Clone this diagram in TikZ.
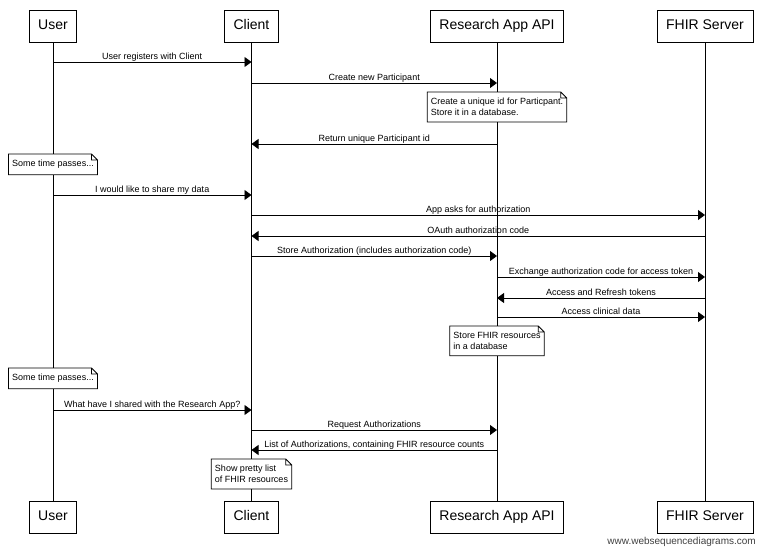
\documentclass[tikz,border=0pt]{standalone}
\usepackage{fontspec}
\setmainfont{Liberation Sans}
\usetikzlibrary{arrows.meta}

\tikzset{
  actor/.style={draw, fill=white, line width=0.8pt, minimum height=32pt, inner xsep=9pt, text height=10pt, text depth=3pt, font=\fontsize{14}{16}\selectfont},
  life/.style={line width=0.8pt},
  msg/.style={line width=0.8pt, -{Triangle[length=7pt,width=10pt]}},
  lbl/.style={midway, anchor=base, yshift=2.5pt, inner sep=0pt, font=\fontsize{9}{11}\selectfont},
  note/.style={anchor=north, fill=white, align=left, inner xsep=3.5pt, inner ysep=6pt, font=\fontsize{9}{11}\selectfont}
}

\begin{document}
\begin{tikzpicture}[x=1pt, y=-1pt]
  \useasboundingbox (0,0) rectangle (762,551);

  % Participants at the top and at the bottom
  \node[actor] (user)   at (53,26.5)  {User};
  \node[actor] (client) at (251.5,26.5) {Client};
  \node[actor] (api)    at (497,26.5) {Research App API};
  \node[actor] (fhir)   at (705,26.5) {FHIR Server};
  \node[actor] (user-b)   at (53,517)  {User};
  \node[actor] (client-b) at (251.5,517) {Client};
  \node[actor] (api-b)    at (497,517) {Research App API};
  \node[actor] (fhir-b)   at (705,517) {FHIR Server};

  % Lifelines
  \foreach \p in {user,client,api,fhir}
    \draw[life] (\p.south) -- (\p-b.north);

  % Messages
  \draw[msg] (user |- 0,62) -- node[lbl] {User registers with Client} (client |- 0,62);
  \draw[msg] (client |- 0,83) -- node[lbl] {Create new Participant} (api |- 0,83);
  \draw[msg] (api |- 0,144) -- node[lbl] {Return unique Participant id} (client |- 0,144);
  \draw[msg] (user |- 0,195) -- node[lbl] {I would like to share my data} (client |- 0,195);
  \draw[msg] (client |- 0,215) -- node[lbl] {App asks for authorization} (fhir |- 0,215);
  \draw[msg] (fhir |- 0,236) -- node[lbl] {OAuth authorization code} (client |- 0,236);
  \draw[msg] (client |- 0,256) -- node[lbl] {Store Authorization (includes authorization code)} (api |- 0,256);
  \draw[msg] (api |- 0,277) -- node[lbl] {Exchange authorization code for access token} (fhir |- 0,277);
  \draw[msg] (fhir |- 0,298) -- node[lbl] {Access and Refresh tokens} (api |- 0,298);
  \draw[msg] (api |- 0,317) -- node[lbl] {Access clinical data} (fhir |- 0,317);
  \draw[msg] (user |- 0,410) -- node[lbl] {What have I shared with the Research App?} (client |- 0,410);
  \draw[msg] (client |- 0,430) -- node[lbl] {Request Authorizations} (api |- 0,430);
  \draw[msg] (api |- 0,450) -- node[lbl] {List of Authorizations, containing FHIR resource counts} (client |- 0,450);

  % Notes
  \node[note] (n1) at (api |- 0,92) {Create a unique id for Particpant.\\Store it in a database.};
  \node[note] (n2) at (user |- 0,154) {Some time passes...};
  \node[note] (n3) at (api |- 0,326) {Store FHIR resources\\in a database};
  \node[note] (n4) at (user |- 0,368) {Some time passes...};
  \node[note] (n5) at (client |- 0,459) {Show pretty list\\of FHIR resources};
  \foreach \n in {n1,n2,n3,n4,n5}
    \draw[line width=0.8pt] (\n.north west) -- ([xshift=-6pt]\n.north east) -- ([yshift=-6pt]\n.north east)
      -- (\n.south east) -- (\n.south west) -- cycle
      ([xshift=-6pt]\n.north east) |- ([yshift=-6pt]\n.north east);

  \node[anchor=base east, inner sep=0pt, text=black!75, font=\fontsize{10}{12}\selectfont] (credit) at (756,544) {www.websequencediagrams.com};
\end{tikzpicture}
\end{document}
